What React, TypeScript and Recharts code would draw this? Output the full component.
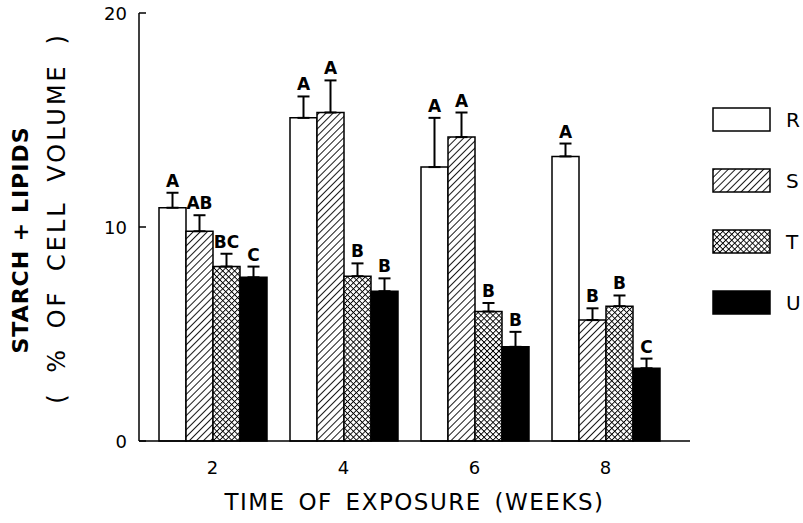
import React from 'react';
import { BarChart, Bar, XAxis, YAxis, ErrorBar, LabelList, Legend } from 'recharts';

const weeks = ['2', '4', '6', '8'];
const seriesNames = ['R', 'S', 'T', 'U'];

const valuesR = [10.9, 15.1, 12.8, 13.3];
const valuesS = [9.8, 15.35, 14.2, 5.65];
const valuesT = [8.15, 7.7, 6.05, 6.3];
const valuesU = [7.65, 7.0, 4.4, 3.4];

const errR = [0.7, 1.0, 2.3, 0.6];
const errS = [0.75, 1.5, 1.15, 0.55];
const errT = [0.6, 0.6, 0.4, 0.5];
const errU = [0.5, 0.6, 0.7, 0.45];

const lettersR = ['A', 'A', 'A', 'A'];
const lettersS = ['AB', 'A', 'A', 'B'];
const lettersT = ['BC', 'B', 'B', 'B'];
const lettersU = ['C', 'B', 'B', 'C'];

const yTicks = [0, 10, 20];

const data = weeks.map((w, i) => ({
  week: w,
  R: valuesR[i],
  S: valuesS[i],
  T: valuesT[i],
  U: valuesU[i],
  R_err: [0, errR[i]],
  S_err: [0, errS[i]],
  T_err: [0, errT[i]],
  U_err: [0, errU[i]],
  R_lab: lettersR[i],
  S_lab: lettersS[i],
  T_lab: lettersT[i],
  U_lab: lettersU[i],
}));

const fills: Record<string, string> = {
  R: '#ffffff',
  S: 'url(#hatchS)',
  T: 'url(#crossT)',
  U: '#000000',
};

const errLookup: Record<string, number[]> = { R: errR, S: errS, T: errT, U: errU };
const valLookup: Record<string, number[]> = { R: valuesR, S: valuesS, T: valuesT, U: valuesU };

const FONT = '"DejaVu Sans", sans-serif';

// letter above the error bar cap
const makeLetter = (key: string) => (props: any) => {
  const { x, y, width, height, value, index } = props;
  if (index == null) return null;
  const pxPerUnit = height / valLookup[key][index];
  const top = y - errLookup[key][index] * pxPerUnit;
  return (
    <text
      x={x + width / 2}
      y={top - 6}
      textAnchor="middle"
      fontFamily={FONT}
      fontWeight="bold"
      fontSize={17}
      fill="#000"
    >
      {value}
    </text>
  );
};

// label left of the axis, short tick pointing into the plot
const YTick = (props: any) => {
  const { x, y, payload } = props;
  return (
    <g>
      <text x={x} y={y} textAnchor="end" dominantBaseline="central" fontFamily={FONT} fontSize={18} fill="#000">
        {payload.value}
      </text>
      <line x1={x + 12} x2={x + 19} y1={y} y2={y} stroke="#000" strokeWidth={1.5} />
    </g>
  );
};

const YTitle = (props: any) => {
  const { viewBox } = props;
  const cy = viewBox.y + viewBox.height / 2;
  return (
    <g>
      <text
        x={20}
        y={cy + 13}
        transform={`rotate(-90, 20, ${cy + 13})`}
        textAnchor="middle"
        dominantBaseline="central"
        fontFamily={FONT}
        fontWeight="bold"
        fontSize={22}
        letterSpacing={1}
        fill="#000"
      >
        STARCH + LIPIDS
      </text>
      <text
        x={57}
        y={cy - 9}
        transform={`rotate(-90, 57, ${cy - 9})`}
        textAnchor="middle"
        dominantBaseline="central"
        fontFamily={FONT}
        fontSize={24}
        letterSpacing={3}
        wordSpacing={8}
        fill="#000"
      >
        ( % OF CELL VOLUME )
      </text>
    </g>
  );
};

const XTitle = (props: any) => {
  const { viewBox } = props;
  return (
    <text
      x={viewBox.x + viewBox.width / 2}
      y={viewBox.y + 61}
      textAnchor="middle"
      dominantBaseline="central"
      fontFamily={FONT}
      fontSize={23}
      letterSpacing={1.5}
      wordSpacing={4}
      fill="#000"
    >
      TIME OF EXPOSURE (WEEKS)
    </text>
  );
};

const renderLegend = () => (
  <svg width={98} height={230}>
    {seriesNames.map((name, i) => (
      <g key={name}>
        <rect x={8} y={8 + i * 61} width={57} height={23} fill={fills[name]} stroke="#000" strokeWidth={1.5} />
        <text x={81} y={8 + i * 61 + 12} dominantBaseline="central" fontFamily={FONT} fontSize={20} fill="#000">
          {name}
        </text>
      </g>
    ))}
  </svg>
);

export default function App() {
  return (
    <div style={{ position: 'absolute', left: 0, top: 0, width: 803, height: 523, background: '#fff' }}>
      <BarChart
        width={803}
        height={523}
        data={data}
        margin={{ top: 13, right: 113, bottom: 0, left: 0 }}
        barCategoryGap={12}
        barGap={0}
      >
        <defs>
          <pattern id="hatchS" width={5} height={5} patternUnits="userSpaceOnUse" patternTransform="rotate(45)">
            <rect width={5} height={5} fill="#fff" />
            <line x1={0} y1={0} x2={0} y2={5} stroke="#000" strokeWidth={1.8} />
          </pattern>
          <pattern id="crossT" width={4.2} height={4.2} patternUnits="userSpaceOnUse" patternTransform="rotate(45)">
            <rect width={4.2} height={4.2} fill="#fff" />
            <line x1={0} y1={0} x2={0} y2={4.2} stroke="#000" strokeWidth={1.8} />
            <line x1={0} y1={0} x2={4.2} y2={0} stroke="#000" strokeWidth={1.8} />
          </pattern>
        </defs>
        <XAxis
          dataKey="week"
          height={82}
          padding={{ left: 8, right: 19 }}
          tickLine={false}
          tickSize={0}
          tickMargin={20}
          axisLine={{ stroke: '#000', strokeWidth: 1.5 }}
          tick={{ fill: '#000', fontSize: 18, fontFamily: FONT }}
          label={XTitle}
        />
        <XAxis
          xAxisId="top"
          dataKey="week"
          orientation="top"
          height={0}
          padding={{ left: 8, right: 19 }}
          tick={false}
          tickLine={false}
          axisLine={{ stroke: '#000', strokeWidth: 1.5 }}
        />
        <YAxis
          width={139}
          domain={[0, 20]}
          ticks={yTicks}
          tickSize={6}
          tickMargin={6}
          tickLine={false}
          axisLine={{ stroke: '#000', strokeWidth: 1.5 }}
          tick={<YTick />}
          label={YTitle}
        />
        <YAxis
          yAxisId="right"
          orientation="right"
          width={0}
          domain={[0, 20]}
          tick={false}
          tickLine={false}
          axisLine={{ stroke: '#000', strokeWidth: 1.5 }}
        />
        <Legend
          layout="vertical"
          align="center"
          verticalAlign="middle"
          content={renderLegend}
          wrapperStyle={{ left: 705, top: 100, width: 98, height: 230 }}
        />
        {seriesNames.map((name) => (
          <Bar
            key={name}
            dataKey={name}
            fill={fills[name]}
            stroke="#000"
            strokeWidth={1.5}
            isAnimationActive={false}
          >
            <ErrorBar dataKey={`${name}_err`} direction="y" width={6} stroke="#000" strokeWidth={2} isAnimationActive={false} />
            <LabelList dataKey={`${name}_lab`} content={makeLetter(name)} />
          </Bar>
        ))}
      </BarChart>
    </div>
  );
}
